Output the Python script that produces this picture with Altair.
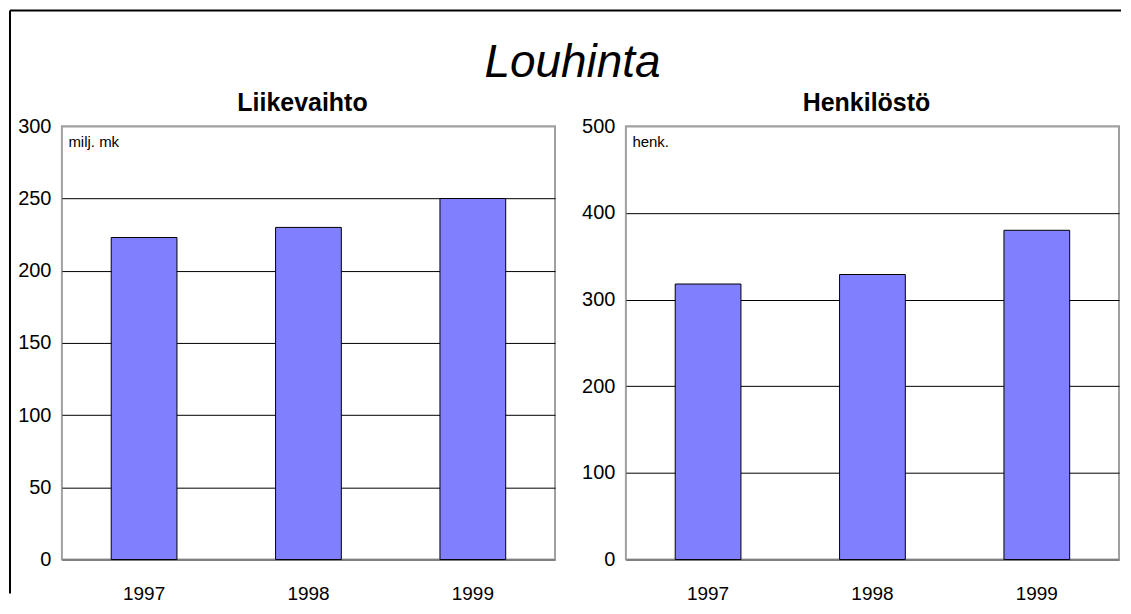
import altair as alt
import pandas as pd

years = ["1997", "1998", "1999"]
liikevaihto = [223, 230, 250]
henkilosto = [318, 329, 380]

FONT = "Liberation Sans"
W, H = 494, 434


def panel(values, title, unit, ymax, step, top_x1, top_x2, with_left_rule):
    df = pd.DataFrame({"vuosi": years, "arvo": values})
    grid_test = f"datum.value === 0 || datum.value === {ymax}"
    bars = alt.Chart(df).mark_bar(fill="#8080ff", stroke="black", strokeWidth=1).encode(
        x=alt.X(
            "vuosi:N",
            sort=years,
            scale=alt.Scale(paddingInner=0.6, paddingOuter=0.3),
            axis=alt.Axis(
                title=None, labelAngle=0, labelFontSize=19, labelColor="black",
                labelPadding=25, ticks=False, domainColor="#808080", domainWidth=2,
                grid=False,
            ),
        ),
        y=alt.Y(
            "arvo:Q",
            scale=alt.Scale(domain=[0, ymax], nice=False),
            axis=alt.Axis(
                values=list(range(0, ymax + 1, step)),
                title=unit, titleAngle=0, titleAlign="left", titleBaseline="top",
                titleX=6, titleY=8, titleFontSize=15, titleFontWeight="normal",
                titleColor="black", labelFontSize=20, labelColor="black",
                labelPadding=11, ticks=False, domain=False, grid=True,
                gridColor={"condition": {"test": grid_test, "value": "#a0a0a0"}, "value": "black"},
                gridWidth=1,
            ),
        ),
    )
    border = pd.DataFrame({"k": [0]})
    layers = [bars]
    top = alt.Chart(border).mark_rule(color="black", strokeWidth=2).encode(
        x=alt.value(top_x1), x2=alt.value(top_x2), y=alt.value(-116)
    )
    layers.append(top)
    if with_left_rule:
        left = alt.Chart(border).mark_rule(color="black", strokeWidth=2).encode(
            x=alt.value(-52), y=alt.value(-116), y2=alt.value(468)
        )
        layers.append(left)
    return alt.layer(*layers).properties(
        width=W,
        height=H,
        title=alt.TitleParams(
            title, fontSize=25, fontWeight="bold", font=FONT, anchor="middle",
            frame="group", offset=-107, dx=-6, color="black",
        ),
    )


left_panel = panel(liikevaihto, "Liikevaihto", "milj. mk", 300, 50, -52, 517, True)
right_panel = panel(henkilosto, "Henkilöstö", "henk.", 500, 100, -48, 496, False)

chart = (
    alt.hconcat(left_panel, right_panel, spacing=-4)
    .properties(
        padding=0,
        title=alt.TitleParams(
            "Louhinta", fontSize=46, fontStyle="italic", fontWeight="normal",
            font=FONT, anchor="middle", offset=-79, dx=7, color="black",
        ),
    )
    .configure(font=FONT)
    .configure_view(stroke="#a0a0a0", strokeWidth=2)
)

chart.save("out.html", embed_options={"renderer": "svg", "actions": False})
